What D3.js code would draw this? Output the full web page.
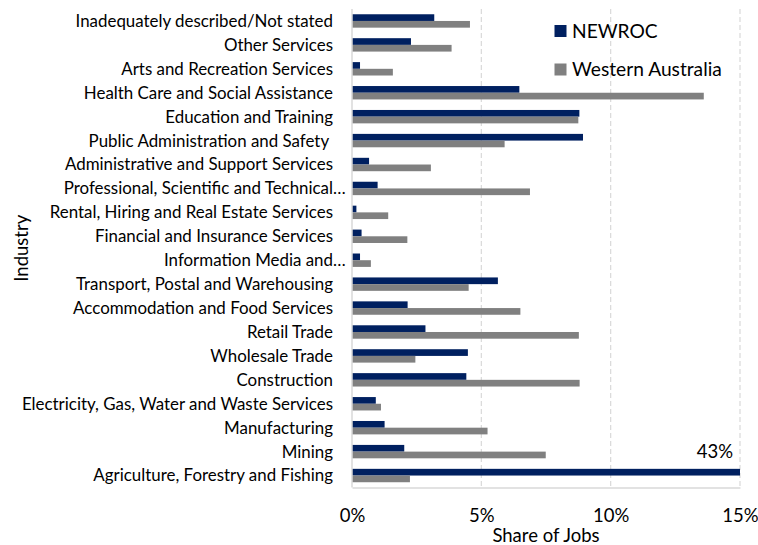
<!DOCTYPE html>
<html>
<head>
<meta charset="utf-8">
<script src="https://cdn.jsdelivr.net/npm/d3@7"></script>
<style>
  html, body { margin: 0; padding: 0; background: #fff; }
  svg { display: block; font-family: Lato, "Open Sans", sans-serif; }
  text { white-space: pre; }
</style>
</head>
<body>
<svg id="chart" width="758" height="545"></svg>
<script>
// Industries, top row first
const categories = [
  "Inadequately described/Not stated",
  "Other Services",
  "Arts and Recreation Services",
  "Health Care and Social Assistance",
  "Education and Training",
  "Public Administration and Safety ",
  "Administrative and Support Services",
  "Professional, Scientific and Technical…",
  "Rental, Hiring and Real Estate Services",
  "Financial and Insurance Services",
  "Information Media and…",
  "Transport, Postal and Warehousing",
  "Accommodation and Food Services",
  "Retail Trade",
  "Wholesale Trade",
  "Construction",
  "Electricity, Gas, Water and Waste Services",
  "Manufacturing",
  "Mining",
  "Agriculture, Forestry and Fishing"
];

// Share of jobs (%) by industry
const newroc = [3.18, 2.28, 0.31, 6.47, 8.79, 8.93, 0.66, 0.99, 0.17, 0.37,
                0.31, 5.64, 2.15, 2.84, 4.48, 4.42, 0.92, 1.26, 2.02, 43];
const westernAustralia = [4.56, 3.85, 1.58, 13.6, 8.75, 5.90, 3.05, 6.88, 1.40, 2.14,
                          0.73, 4.51, 6.51, 8.77, 2.45, 8.80, 1.12, 5.24, 7.49, 2.24];

const seriesNames = ["NEWROC", "Western Australia"];
const seriesColors = ["#002060", "#808080"];
const xTicks = [0, 5, 10, 15];

const svg = d3.select("#chart");
const plotLeft = 352, plotRight = 740, plotTop = 9, plotBottom = 487.5;

const x = d3.scaleLinear().domain([0, 15]).range([plotLeft, plotRight]).clamp(true);
const y = d3.scaleBand().domain(categories).range([plotTop, plotBottom])
  .paddingInner(0.44).paddingOuter(0.22);
const ySub = d3.scaleBand().domain(seriesNames).range([0, y.bandwidth()]);

// dashed vertical gridlines
svg.append("g")
  .selectAll("line")
  .data(xTicks.filter(t => t > 0))
  .join("line")
  .attr("x1", d => x(d)).attr("x2", d => x(d))
  .attr("y1", plotTop).attr("y2", plotBottom)
  .attr("stroke", "#d9d9d9").attr("stroke-width", 1.2)
  .attr("stroke-dasharray", "5,3");

// bars
const rows = categories.map((c, i) => ({ c, vals: [newroc[i], westernAustralia[i]] }));
const g = svg.append("g");
rows.forEach(r => {
  r.vals.forEach((v, j) => {
    g.append("rect")
      .attr("x", x(0))
      .attr("y", y(r.c) + ySub(seriesNames[j]))
      .attr("width", x(v) - x(0))
      .attr("height", ySub.bandwidth())
      .attr("fill", seriesColors[j]);
  });
});

// axis lines
const xAxis = d3.axisBottom(x).tickValues(xTicks).tickSize(0).tickPadding(21)
  .tickFormat(d => d + "%");
const xg = svg.append("g").attr("transform", `translate(0,${plotBottom})`).call(xAxis);
xg.select(".domain").attr("stroke", "#d9d9d9").attr("stroke-width", 1.5);
xg.selectAll("text").attr("font-size", 18.5).attr("fill", "#000")
  .attr("font-family", "Lato, sans-serif");

svg.append("line")
  .attr("x1", x(0)).attr("x2", x(0)).attr("y1", plotTop).attr("y2", plotBottom)
  .attr("stroke", "#d9d9d9").attr("stroke-width", 1.5);

// category labels; a trailing ellipsis hangs past the label edge
const labelX = 333;
const lg = svg.append("g").attr("font-size", 16.9).attr("fill", "#000");
categories.forEach(c => {
  const cy = y(c) + y.bandwidth() / 2;
  const trunc = c.endsWith("…");
  lg.append("text")
    .attr("x", labelX).attr("y", cy).attr("dy", "0.35em")
    .attr("text-anchor", "end")
    .text(trunc ? c.slice(0, -1) : c);
  if (trunc) {
    lg.append("text")
      .attr("x", labelX).attr("y", cy).attr("dy", "0.35em")
      .attr("text-anchor", "start")
      .text("…");
  }
});

// value label for the bar running off the axis
const clipped = rows.findIndex(r => r.vals[0] > 15);
svg.append("text")
  .attr("x", 733).attr("y", y(categories[clipped]) - 17)
  .attr("dy", "0.35em")
  .attr("text-anchor", "end")
  .attr("font-size", 18.5)
  .text(newroc[clipped] + "%");

// axis titles
svg.append("text")
  .attr("x", (plotLeft + plotRight) / 2).attr("y", 536).attr("dy", "0.35em")
  .attr("text-anchor", "middle").attr("font-size", 18.5)
  .text("Share of Jobs");
svg.append("text")
  .attr("transform", `translate(22,${(plotTop + plotBottom) / 2}) rotate(-90)`)
  .attr("dy", "0.35em")
  .attr("text-anchor", "middle").attr("font-size", 18.5)
  .text("Industry");

// legend
const legend = svg.append("g");
const legendY = [31, 69.5];
seriesNames.forEach((n, i) => {
  legend.append("rect")
    .attr("x", 554.5).attr("y", legendY[i] - 6)
    .attr("width", 12).attr("height", 12)
    .attr("fill", seriesColors[i]);
  legend.append("text")
    .attr("x", 572).attr("y", legendY[i]).attr("dy", "0.35em")
    .attr("font-size", 19.2)
    .text(n);
});
</script>
</body>
</html>
